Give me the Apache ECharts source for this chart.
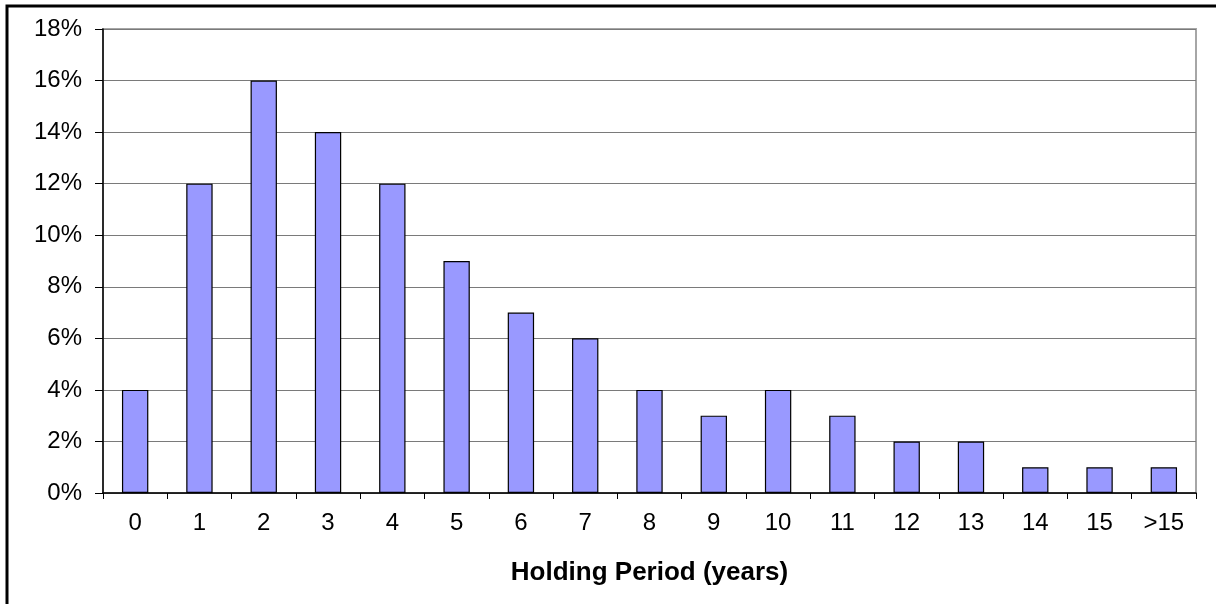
<!DOCTYPE html>
<html>
<head>
<meta charset="utf-8">
<script src="https://cdn.jsdelivr.net/npm/echarts@6/dist/echarts.min.js"></script>
<style>
  html, body { margin: 0; padding: 0; background: #fff; }
  #chart { width: 1216px; height: 604px; }
</style>
</head>
<body>
<div id="chart"></div>
<script>
// Holding period distribution (share of holdings by years held)
const categories = ['0', '1', '2', '3', '4', '5', '6', '7', '8', '9', '10', '11', '12', '13', '14', '15', '>15'];
const shares = [4, 12, 16, 14, 12, 9, 7, 6, 4, 3, 4, 3, 2, 2, 1, 1, 1];
const xTitle = 'Holding Period (years)';

const chart = echarts.init(document.getElementById('chart'), null, { renderer: 'canvas' });
const font = 'Liberation Sans, Arial, sans-serif';

chart.setOption({
  animation: false,
  backgroundColor: '#ffffff',
  graphic: [{
    type: 'rect',
    shape: { x: 7, y: 6, width: 1400, height: 800 },
    style: { fill: 'none', stroke: '#000', lineWidth: 3 },
    z: 100
  }],
  grid: {
    left: 103, right: 20, top: 29, bottom: 111,
    show: true, borderColor: '#a6a6a6', borderWidth: 2, backgroundColor: '#fff'
  },
  xAxis: {
    type: 'category',
    data: categories,
    boundaryGap: true,
    name: xTitle,
    nameLocation: 'middle',
    nameGap: 67,
    nameTextStyle: { fontFamily: font, fontSize: 26, fontWeight: 'bold', color: '#000' },
    axisLine: { lineStyle: { color: '#000', width: 1.5 } },
    axisTick: { show: true, length: 6, lineStyle: { color: '#000' } },
    axisLabel: { margin: 18, fontFamily: font, fontSize: 24, color: '#000' }
  },
  yAxis: {
    type: 'value',
    min: 0, max: 18, interval: 2,
    axisLine: { show: true, lineStyle: { color: '#000', width: 1.5 } },
    axisTick: { show: true, length: 8, lineStyle: { color: '#000' } },
    axisLabel: { margin: 21, fontFamily: font, fontSize: 24, color: '#000', formatter: '{value}%' },
    splitLine: { show: true, lineStyle: { color: '#7a7a7a', width: 1.2 } }
  },
  series: [{
    type: 'bar',
    data: shares,
    barWidth: '41%',
    itemStyle: { color: '#9999ff', borderColor: '#000', borderWidth: 1.2 }
  }]
});
</script>
</body>
</html>
